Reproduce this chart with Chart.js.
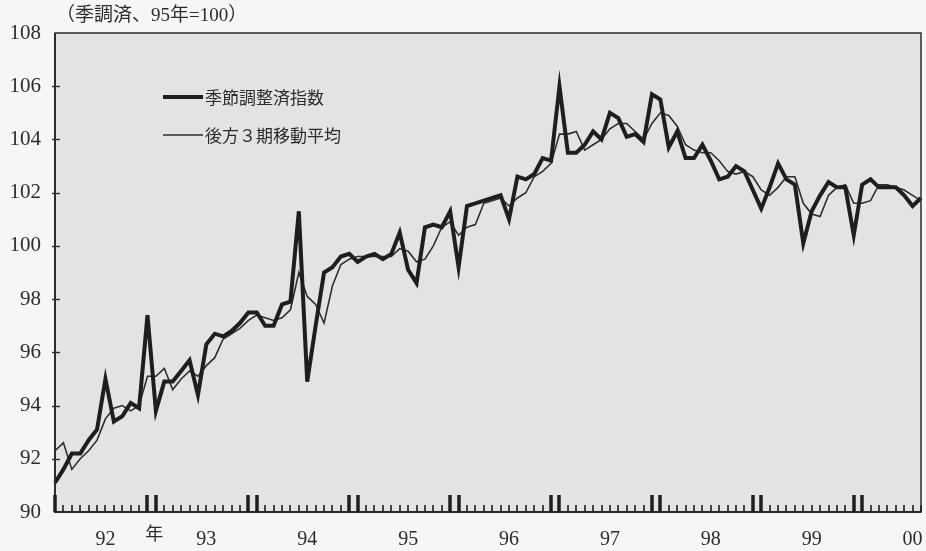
<!DOCTYPE html>
<html><head><meta charset="utf-8">
<script src="https://cdn.jsdelivr.net/npm/chart.js@4.4.0/dist/chart.umd.min.js"></script>
<style>
html,body{margin:0;padding:0;background:#f6f6f6;}
#wrap{position:relative;width:926px;height:551px;}
canvas{display:block;}
</style></head><body>
<div id="wrap"><canvas id="c" width="926" height="551"></canvas></div>
<script>
// Year labels (one per calendar year, shown at mid-year)
const yearLabels = ["92","93","94","95","96","97","98","99","00"];
const startYear = 1992;
const monthCount = 104; // Jan 1992 .. Aug 2000

// 季節調整済指数 (seasonally adjusted index, 95=100)
const seasonallyAdjusted = [
  91.1, 91.6, 92.2, 92.2, 92.7, 93.1, 95.0, 93.4, 93.6, 94.1, 93.9, 97.4,
  93.8, 94.9, 94.9, 95.3, 95.7, 94.4, 96.3, 96.7, 96.6, 96.8, 97.1, 97.5,
  97.5, 97.0, 97.0, 97.8, 97.9, 101.3, 94.9, 97.0, 99.0, 99.2, 99.6, 99.7,
  99.4, 99.6, 99.7, 99.5, 99.7, 100.5, 99.1, 98.6, 100.7, 100.8, 100.7, 101.3,
  99.2, 101.5, 101.6, 101.7, 101.8, 101.9, 101.0, 102.6, 102.5, 102.7, 103.3, 103.2,
  106.0, 103.5, 103.5, 103.8, 104.3, 104.0, 105.0, 104.8, 104.1, 104.2, 103.9, 105.7,
  105.5, 103.7, 104.3, 103.3, 103.3, 103.8, 103.2, 102.5, 102.6, 103.0, 102.8, 102.1,
  101.4, 102.2, 103.1, 102.5, 102.3, 100.1, 101.3, 101.9, 102.4, 102.2, 102.2, 100.4,
  102.3, 102.5, 102.2, 102.2, 102.2, 101.9, 101.5, 101.8
];

// 後方３期移動平均 (trailing 3-month moving average)
const movingAverage3 = [
  92.3, 92.6, 91.6, 92.0, 92.3, 92.7, 93.5, 93.9, 94.0, 93.8, 94.0, 95.1,
  95.1, 95.4, 94.6, 95.0, 95.3, 95.1, 95.5, 95.8, 96.5, 96.7, 96.9, 97.2,
  97.4, 97.3, 97.2, 97.3, 97.6, 99.0, 98.1, 97.8, 97.1, 98.5, 99.3, 99.5,
  99.6, 99.6, 99.6, 99.6, 99.6, 99.9, 99.8, 99.4, 99.5, 100.0, 100.7, 100.9,
  100.4, 100.7, 100.8, 101.6, 101.7, 101.8, 101.5, 101.8, 102.0, 102.6, 102.8, 103.1,
  104.2, 104.2, 104.3, 103.6, 103.8, 104.0, 104.4, 104.6, 104.6, 104.3, 104.0, 104.6,
  105.0, 104.9, 104.5, 103.8, 103.6, 103.5, 103.5, 103.2, 102.8, 102.7, 102.8, 102.6,
  102.1, 101.9, 102.2, 102.6, 102.6, 101.6, 101.2, 101.1, 101.9, 102.2, 102.3, 101.6,
  101.6, 101.7, 102.3, 102.3, 102.2, 102.1, 101.9, 101.7
];

const seriesNames = ["季節調整済指数", "後方３期移動平均"];
const unitNote = "（季調済、95年=100）";
const yearMark = "年";

// monthly categories built from the year list
const months = [];
for (let i = 0; i < monthCount; i++) {
  const y = startYear + Math.floor(i / 12), m = (i % 12) + 1;
  months.push(y + "-" + (m < 10 ? "0" + m : m));
}

const NUM_FONT = "'Liberation Serif','Noto Sans CJK JP',serif";
const JP_FONT = "'Noto Sans CJK JP','Liberation Serif',sans-serif";
const INK = "#2c2c2c";

const decor = {
  id: 'decor',
  beforeDatasetsDraw(chart) {
    const {ctx, chartArea: a} = chart;
    ctx.save();
    ctx.fillStyle = '#e3e3e3';
    ctx.fillRect(a.left, a.top, a.right - a.left, a.bottom - a.top);
    ctx.restore();
  },
  afterDatasetsDraw(chart) {
    const {ctx, chartArea: a, scales} = chart;
    const xs = scales.x, ys = scales.y;
    ctx.save();
    // frame
    ctx.strokeStyle = INK;
    ctx.lineWidth = 1.5;
    ctx.strokeRect(a.left, a.top, a.right - a.left, a.bottom - a.top);
    ctx.lineWidth = 2;
    ctx.beginPath();
    ctx.moveTo(a.left, a.top); ctx.lineTo(a.left, a.bottom); ctx.lineTo(a.right, a.bottom);
    ctx.stroke();
    // month ticks (inside, upward)
    ctx.strokeStyle = '#1e1e1e';
    for (let i = 0; i < months.length; i++) {
      const x = Math.round(xs.getPixelForValue(i));
      const m = i % 12;
      const big = (m === 0 || m === 11);
      ctx.lineWidth = big ? 3.5 : 1.6;
      ctx.beginPath();
      ctx.moveTo(x, a.bottom);
      ctx.lineTo(x, a.bottom - (big ? 17 : 7));
      ctx.stroke();
    }
    // y ticks
    ctx.strokeStyle = INK;
    ctx.lineWidth = 1.4;
    for (let v = 92; v <= 106; v += 2) {
      const y = Math.round(ys.getPixelForValue(v)) + 0.5;
      ctx.beginPath();
      ctx.moveTo(a.left - 3, y); ctx.lineTo(a.left + 5, y);
      ctx.stroke();
    }
    // legend
    const ds = chart.data.datasets;
    const lx = 163, lw = 40, rows = [97, 135];
    ds.forEach((d, k) => {
      ctx.strokeStyle = d.borderColor;
      ctx.lineWidth = d.borderWidth;
      ctx.beginPath();
      ctx.moveTo(lx, rows[k]); ctx.lineTo(lx + lw, rows[k]);
      ctx.stroke();
      ctx.fillStyle = INK;
      ctx.font = "17px " + JP_FONT;
      ctx.textAlign = 'left';
      ctx.textBaseline = 'middle';
      ctx.fillText(d.label, lx + lw + 2, rows[k] + 1);
    });
    // unit note
    ctx.font = "19px " + NUM_FONT;
    ctx.fillStyle = INK;
    ctx.textAlign = 'left';
    ctx.textBaseline = 'middle';
    ctx.fillText(unitNote, 56, 16);
    // 年 mark under first year boundary
    ctx.font = "18px " + JP_FONT;
    ctx.textAlign = 'center';
    ctx.fillText(yearMark, xs.getPixelForValue(11.8), 533);
    ctx.restore();
  }
};

new Chart(document.getElementById('c'), {
  type: 'line',
  data: {
    labels: months,
    datasets: [
      { label: seriesNames[0], data: seasonallyAdjusted, borderColor: '#1e1e1e', borderWidth: 4,
        pointRadius: 0, tension: 0, fill: false },
      { label: seriesNames[1], data: movingAverage3, borderColor: '#2e2e2e', borderWidth: 1.6,
        pointRadius: 0, tension: 0, fill: false }
    ]
  },
  options: {
    responsive: false,
    animation: false,
    layout: { padding: { top: 33, right: 5, left: 0, bottom: 0 } },
    plugins: { legend: { display: false }, tooltip: { enabled: false } },
    scales: {
      x: {
        type: 'category', offset: false,
        grid: { display: false, drawTicks: false }, border: { display: false },
        ticks: {
          autoSkip: false, maxRotation: 0, minRotation: 0, padding: 16,
          color: INK, font: { family: NUM_FONT, size: 20 },
          callback: (v, i) => (i % 12 === 6 ? yearLabels[Math.floor(i / 12)] : '')
        },
        afterFit: s => { s.height = 39; s.paddingLeft = 0; s.paddingRight = 0; }
      },
      y: {
        min: 90, max: 108,
        grid: { display: false, drawTicks: false }, border: { display: false },
        ticks: { stepSize: 2, padding: 14, color: INK, font: { family: NUM_FONT, size: 21 } },
        afterFit: s => { s.width = 55; s.paddingTop = 0; s.paddingBottom = 0; }
      }
    }
  },
  plugins: [decor]
});
</script>
</body></html>
